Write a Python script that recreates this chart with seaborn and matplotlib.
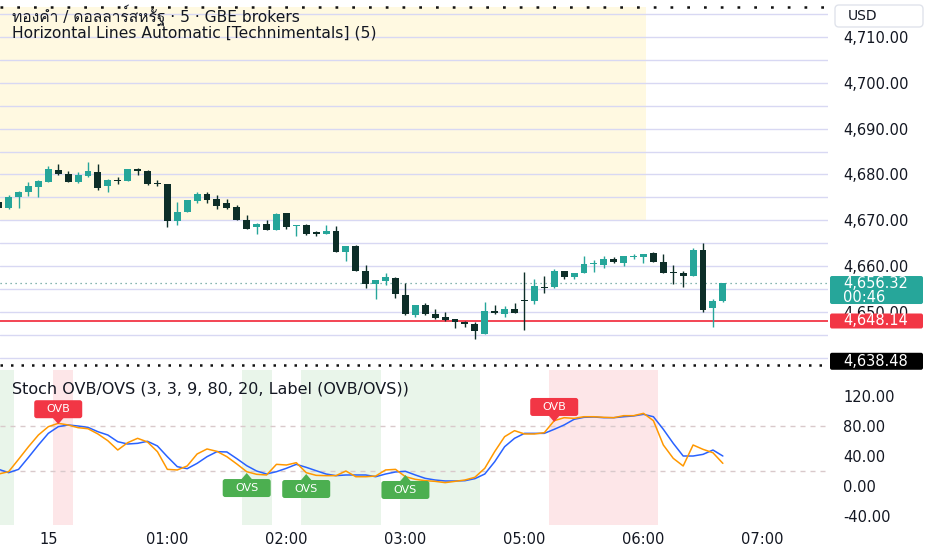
import numpy as np
import pandas as pd
import matplotlib
matplotlib.use("Agg")
import matplotlib.pyplot as plt
import seaborn as sns
from matplotlib import transforms
from matplotlib.patches import FancyBboxPatch, Rectangle, Polygon
from matplotlib.ticker import FuncFormatter
from matplotlib import font_manager as fm
from matplotlib.ft2font import FT2Font

# ---------------- data ----------------
bar_index = list(range(-5, 69))   # 5-minute bars, 0 = 00:00 on the 15th (04:00 hour absent)
opens = [4674.0, 4672.6, 4675.0, 4676.1, 4677.3, 4678.4, 4681.0, 4680.1, 4678.4, 4679.7,
         4680.6, 4677.5, 4678.8, 4678.6, 4681.2, 4680.7, 4678.1, 4677.9, 4669.8, 4671.9,
         4674.2, 4675.7, 4674.6, 4673.7, 4672.8, 4670.0, 4668.5, 4669.2, 4667.9, 4671.5,
         4668.7, 4669.0, 4667.3, 4667.1, 4667.6, 4663.0, 4664.4, 4659.0, 4656.2, 4656.7,
         4657.5, 4653.7, 4649.3, 4651.5, 4649.5, 4648.9, 4648.4, 4647.8, 4647.3, 4645.3,
         4650.2, 4649.5, 4650.7, 4652.5, 4652.4, 4655.4, 4655.4, 4658.9, 4657.7, 4658.5,
         4660.5, 4660.2, 4661.5, 4660.6, 4662.1, 4662.0, 4662.8, 4660.8, 4658.6, 4658.6,
         4657.9, 4663.6, 4650.8, 4652.4]
highs = [4674.3, 4675.5, 4676.5, 4678.3, 4678.9, 4681.8, 4682.3, 4680.8, 4680.6, 4682.8,
         4682.2, 4679.0, 4679.5, 4681.3, 4681.5, 4680.9, 4678.9, 4678.0, 4673.9, 4674.5,
         4676.1, 4676.1, 4675.5, 4674.6, 4673.3, 4671.1, 4669.4, 4670.0, 4671.5, 4671.6,
         4669.0, 4669.1, 4667.6, 4668.9, 4668.7, 4664.5, 4664.6, 4660.2, 4657.0, 4658.5,
         4657.6, 4656.4, 4651.6, 4652.0, 4650.6, 4650.0, 4648.5, 4648.0, 4647.8, 4652.1,
         4651.6, 4651.4, 4651.9, 4658.8, 4657.1, 4657.8, 4659.3, 4659.0, 4658.6, 4662.2,
         4661.3, 4662.2, 4662.0, 4662.3, 4662.6, 4662.7, 4663.0, 4662.6, 4660.2, 4659.0,
         4664.0, 4665.1, 4652.8, 4656.4]
lows = [4672.5, 4672.4, 4672.6, 4675.3, 4675.1, 4678.3, 4679.9, 4678.3, 4678.2, 4679.5,
        4676.7, 4676.2, 4678.0, 4678.5, 4679.9, 4677.8, 4677.5, 4668.6, 4669.0, 4671.8,
        4673.7, 4673.8, 4672.4, 4672.5, 4670.0, 4668.0, 4667.1, 4667.8, 4667.8, 4668.0,
        4666.6, 4666.7, 4666.6, 4667.0, 4663.0, 4661.1, 4658.9, 4655.3, 4652.8, 4655.8,
        4653.1, 4649.4, 4648.9, 4649.4, 4648.4, 4648.1, 4646.5, 4646.8, 4644.2, 4645.2,
        4649.6, 4648.8, 4649.7, 4646.0, 4651.7, 4654.2, 4655.3, 4657.2, 4657.1, 4658.4,
        4658.8, 4659.6, 4660.6, 4660.0, 4661.5, 4660.6, 4660.8, 4658.6, 4656.0, 4655.5,
        4657.8, 4650.0, 4646.7, 4652.2]
closes = [4672.6, 4675.1, 4676.2, 4677.5, 4678.6, 4681.1, 4680.0, 4678.4, 4679.9, 4680.7,
          4677.1, 4678.9, 4678.7, 4681.2, 4680.7, 4677.9, 4678.0, 4669.8, 4671.9, 4674.4,
          4675.7, 4674.4, 4673.2, 4672.7, 4670.0, 4668.2, 4669.3, 4667.9, 4671.4, 4668.5,
          4669.0, 4667.1, 4667.2, 4667.6, 4663.0, 4664.4, 4658.9, 4656.2, 4656.9, 4657.7,
          4653.9, 4649.5, 4651.5, 4649.5, 4648.6, 4648.2, 4647.8, 4647.3, 4645.9, 4650.2,
          4649.7, 4650.6, 4649.7, 4652.4, 4655.6, 4655.3, 4659.0, 4657.7, 4658.5, 4660.4,
          4660.7, 4661.5, 4661.0, 4662.2, 4662.2, 4662.6, 4660.8, 4658.6, 4658.5, 4657.9,
          4663.5, 4650.5, 4652.4, 4656.32]

stoch_k = [15.6, 18.7, 35.2, 52.0, 67.6, 78.7, 83.2, 81.0, 77.4, 76.0,
           69.0, 60.0, 47.6, 57.4, 63.2, 58.3, 45.4, 21.8, 21.0, 26.3,
           42.3, 49.0, 45.8, 38.7, 29.0, 18.7, 15.2, 14.3, 28.5, 27.6,
           30.7, 17.4, 13.8, 13.4, 13.4, 19.6, 12.0, 12.0, 12.9, 21.0,
           21.8, 12.0, 8.5, 6.7, 5.8, 4.1, 5.8, 7.6, 11.2, 23.2,
           45.5, 65.4, 73.4, 69.0, 69.0, 70.7, 86.7, 90.7, 89.8, 92.0,
           92.0, 91.2, 90.7, 93.4, 93.4, 96.5, 86.7, 54.3, 36.5, 26.3,
           54.3, 48.5, 44.0, 29.8]
stoch_d = [21.8, 17.4, 21.8, 37.8, 54.3, 69.8, 78.7, 81.0, 79.6, 77.8,
           72.0, 67.6, 58.7, 55.6, 56.5, 59.2, 53.0, 38.7, 25.4, 22.7,
           29.8, 38.7, 45.4, 45.0, 36.1, 26.7, 19.6, 15.6, 18.7, 23.2,
           28.5, 24.5, 20.0, 15.6, 13.4, 14.3, 14.3, 14.3, 12.0, 15.6,
           18.3, 19.2, 14.3, 9.8, 7.6, 6.3, 6.3, 6.7, 9.4, 15.6,
           32.0, 52.0, 63.2, 69.8, 69.8, 69.8, 75.2, 81.0, 88.5, 91.2,
           91.6, 90.7, 90.7, 92.0, 93.0, 95.2, 92.0, 75.2, 56.5, 39.6,
           39.6, 41.8, 47.6, 39.6]

time_tick_bars = [0, 12, 24, 36, 48, 60, 72]
time_tick_labels = ["15", "01:00", "02:00", "03:00", "05:00", "06:00", "07:00"]
price_ticks = [4650, 4660, 4670, 4680, 4690, 4700, 4710]
hline_levels = [4640, 4645, 4650, 4655, 4660, 4665, 4670, 4675, 4680,
                4685, 4690, 4695, 4700, 4705, 4710, 4715]
zone_low, zone_high, zone_end_bar = 4670.0, 4716.6, 60.25
top_level = 4716.6
bottom_level = 4638.48
red_level = 4648.14
last_price = 4656.32
countdown = "00:46"
stoch_ticks = [-40, 0, 40, 80, 120]
ob_level, os_level = 80, 20
green_bands = [(-6, -4), (20, 22), (26, 33), (36, 43)]
red_bands = [(1, 2), (51, 61)]
ovb_labels = [(1, 82.0), (51, 85.0)]
ovs_labels = [(20, 16.9), (26, 15.6), (36, 14.3)]

title_line1 = "ทองคำ / ดอลลาร์สหรัฐ · 5 · GBE brokers"
title_line2 = "Horizontal Lines Automatic [Technimentals] (5)"
stoch_title = "Stoch OVB/OVS (3, 3, 9, 80, 20, Label (OVB/OVS))"

# ---------------- style ----------------
TEXT = "#131722"
TEAL = "#26a69a"
DARK = "#0d2e28"
YELLOW = "#fff9e1"
HLINE = "#d8d8f3"
RED = "#f23645"
K_COLOR = "#ff9800"
D_COLOR = "#2962ff"
GREEN_BAND = "#e9f5ea"
RED_BAND = "#fde6e8"
OVS_GREEN = "#4caf50"

sns.set_theme(style="white")
plt.rcParams["font.family"] = ["DejaVu Sans"]


def find_family(ch):
    for f in fm.fontManager.ttflist:
        try:
            if ord(ch) in FT2Font(f.fname).get_charmap():
                return f.name
        except Exception:
            continue
    return None


thai_family = find_family("ท")
title_families = ["DejaVu Sans"] + ([thai_family] if thai_family and thai_family != "DejaVu Sans" else [])

W, H = 932, 550
fig = plt.figure(figsize=(W / 100, H / 100), dpi=100, facecolor="white")


def px_axes(x0, y0, x1, y1):
    return fig.add_axes([x0 / W, 1 - y1 / H, (x1 - x0) / W, (y1 - y0) / H])


ax = px_axes(0, 0, 828, 370)
ax2 = px_axes(0, 370, 828, 525)

XMIN, XMAX = -4.87, 78.6
for a in (ax, ax2):
    a.set_xlim(XMIN, XMAX)
    a.set_facecolor("white")
    a.grid(False)
    for s in a.spines.values():
        s.set_visible(False)
ax.set_ylim(4637.34, 4718.07)
ax2.set_ylim(-52.4, 154.3)

# ---- main pane ----
ax.add_patch(Rectangle((XMIN - 2, zone_low), zone_end_bar - (XMIN - 2), zone_high - zone_low,
                       facecolor=YELLOW, edgecolor="none", zorder=0))
for lvl in hline_levels:
    ax.axhline(lvl, color=HLINE, lw=1.0, zorder=1)
ax.axhline(top_level, color="#111111", lw=1.8, linestyle=(0, (1.1, 5.6)), zorder=2)
ax.axhline(bottom_level, color="#111111", lw=1.8, linestyle=(0, (1.0, 3.2)), zorder=2)
ax.axhline(last_price, color="#5f9e96", lw=0.9, linestyle=(0, (1, 3)), zorder=2)
ax.axhline(red_level, color=RED, lw=1.3, zorder=2.5)

df = pd.DataFrame(dict(bar=bar_index, open=opens, high=highs, low=lows, close=closes))
up = df["close"] >= df["open"]
colors = np.where(up, TEAL, DARK)
ax.vlines(df["bar"], df["low"], df["high"], colors=colors, lw=1.0, zorder=3)
body = (df["close"] - df["open"]).abs()
mid = (df["close"] + df["open"]) / 2
min_h = 0.28
body_h = np.maximum(body, min_h)
body_bottom = np.where(body < min_h, mid - min_h / 2, np.minimum(df["open"], df["close"]))
ax.bar(df["bar"], body_h, bottom=body_bottom, width=0.7, color=colors, linewidth=0, zorder=4)

ax.set_xticks([])
ax.yaxis.tick_right()
ax.set_yticks(price_ticks)
fmt = FuncFormatter(lambda v, p: f"{v:,.2f}")
ax.yaxis.set_major_formatter(fmt)
ax.tick_params(axis="y", length=0, pad=11, labelsize=10.5, labelcolor=TEXT)

fig.text(12 / W, 1 - 21.5 / H, title_line1, family=title_families, fontsize=11.2, color=TEXT, va="baseline")
fig.text(12 / W, 1 - 37.5 / H, title_line2, fontsize=11.2, color=TEXT, va="baseline")

# ---- stochastic pane ----
for s, e in green_bands:
    ax2.axvspan(s - 0.5, e + 0.5, color=GREEN_BAND, lw=0, zorder=0)
for s, e in red_bands:
    ax2.axvspan(s - 0.5, e + 0.5, color=RED_BAND, lw=0, zorder=0)
for lvl in (ob_level, os_level):
    ax2.axhline(lvl, color="#d9c9cb", lw=1.0, linestyle=(0, (3.6, 3.6)), zorder=1)

sdf = pd.DataFrame(dict(bar=bar_index, k=stoch_k, d=stoch_d))
sns.lineplot(data=sdf, x="bar", y="d", ax=ax2, color=D_COLOR, lw=1.1, estimator=None, legend=False, zorder=3)
sns.lineplot(data=sdf, x="bar", y="k", ax=ax2, color=K_COLOR, lw=1.1, estimator=None, legend=False, zorder=3)
ax2.set_xlabel("")
ax2.set_ylabel("")
ax2.set_xlim(XMIN, XMAX)
ax2.set_ylim(-52.4, 154.3)

ax2.yaxis.tick_right()
ax2.set_yticks(stoch_ticks)
ax2.yaxis.set_major_formatter(fmt)
ax2.tick_params(axis="y", length=0, pad=11, labelsize=10.5, labelcolor=TEXT)
ax2.set_xticks(time_tick_bars)
ax2.set_xticklabels(time_tick_labels)
ax2.tick_params(axis="x", length=0, pad=5, labelsize=10.5, labelcolor=TEXT)

fig.text(12 / W, 1 - 389 / H, stoch_title, fontsize=11.5, color=TEXT, va="center")

ident = transforms.IdentityTransform()


def stoch_label(bar, val, text, color, above):
    xd, yd = ax2.transData.transform((bar, val))
    w, h, ptr = 48, 18, 6
    if above:
        y0 = yd + ptr
        tri = [(xd - 6, y0 + 1), (xd + 6, y0 + 1), (xd, yd)]
    else:
        y0 = yd - ptr - h
        tri = [(xd - 6, y0 + h - 1), (xd + 6, y0 + h - 1), (xd, yd)]
    fig.add_artist(FancyBboxPatch((xd - w / 2, y0), w, h, boxstyle="round,pad=0,rounding_size=2.5",
                                  facecolor=color, edgecolor="none", transform=ident, zorder=5))
    fig.add_artist(Polygon(tri, closed=True, facecolor=color, edgecolor="none", transform=ident, zorder=5))
    fig.text(xd, y0 + h / 2, text, transform=ident, ha="center", va="center",
             color="white", fontsize=8, zorder=6)


for b, v in ovb_labels:
    stoch_label(b, v, "OVB", RED, True)
for b, v in ovs_labels:
    stoch_label(b, v, "OVS", OVS_GREEN, False)


# ---- right scale boxes ----
def right_box(price, top, bottom, fc, lines, line_offsets):
    _, yd = ax.transData.transform((0, price))
    x0, x1 = 830, 923
    fig.add_artist(FancyBboxPatch((x0, yd - bottom), x1 - x0, top + bottom,
                                  boxstyle="round,pad=0,rounding_size=2", facecolor=fc,
                                  edgecolor="none", transform=ident, zorder=5))
    for t, off in zip(lines, line_offsets):
        fig.text(843, yd + off, t, transform=ident, ha="left", va="center",
                 color="white", fontsize=10.5, zorder=6)


right_box(last_price, 7, 21, TEAL, [f"{last_price:,.2f}", countdown], [0, -14])
right_box(red_level, 7, 8, RED, [f"{red_level:,.2f}"], [0])
right_box(bottom_level, 12, 5, "#000000", [f"{bottom_level:,.2f}"], [3.5])

fig.add_artist(FancyBboxPatch((835, H - 27), 88, 22, boxstyle="round,pad=0,rounding_size=4",
                              facecolor="white", edgecolor="#e0e3eb", lw=1, transform=ident, zorder=5))
fig.text(848, H - 15.5, "USD", transform=ident, ha="left", va="center", color=TEXT, fontsize=10, zorder=6)

fig.savefig("out.png", dpi=100, facecolor="white")
